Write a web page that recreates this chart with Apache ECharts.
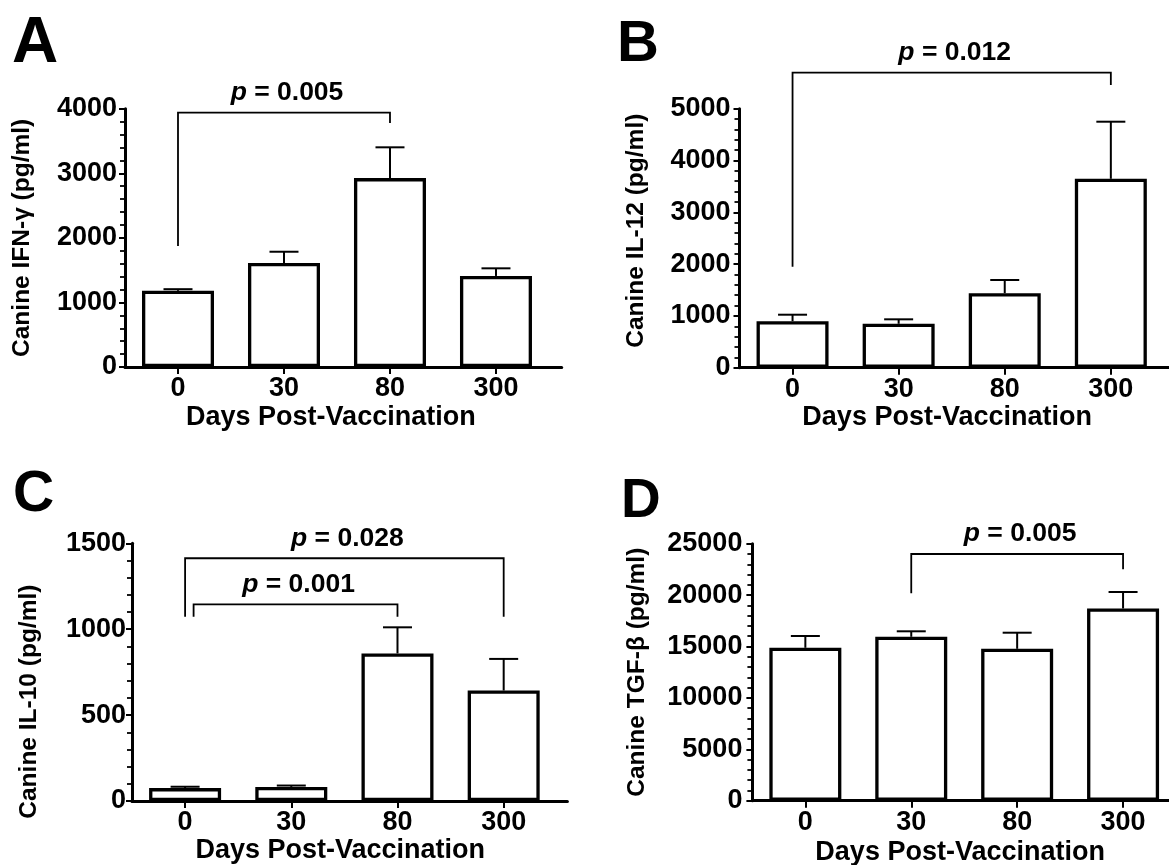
<!DOCTYPE html>
<html>
<head>
<meta charset="utf-8">
<script src="https://cdn.jsdelivr.net/npm/echarts@6/dist/echarts.min.js"></script>
<style>
html,body{margin:0;padding:0;background:#fff;}
#chart{width:1169px;height:865px;}
</style>
</head>
<body>
<div id="chart"></div>
<script>
// ---- data ----
const days = ['0', '30', '80', '300'];

const ifnMean = [1180, 1610, 2925, 1410];
const ifnSem  = [25, 175, 477, 118];

const il12Mean = [898, 848, 1438, 3647];
const il12Sem  = [125, 86, 255, 1102];

const il10Mean = [75, 82, 859, 643];
const il10Sem  = [8, 8, 152, 184];

const tgfMean = [14874, 15944, 14776, 18696];
const tgfSem  = [1147, 535, 1566, 1606];

// brackets: [fromCat, toCat, topValue, leftLegEnd, rightLegEnd]
const ifnBrackets  = [[0, 2, 3938, 1874, 3778]];
const ifnPLabels   = ['0.005'];
const il12Brackets = [[0, 3, 5695, 1950, 5458]];
const il12PLabels  = ['0.012'];
const il10Brackets = [[0, 3, 1413, 1073, 1073], [0.08, 2, 1145, 1073, 1073]];
const il10PLabels  = ['0.028', '0.001'];
const tgfBrackets  = [[1, 3, 23998, 20175, 22510]];
const tgfPLabels   = ['0.005'];

const yTitles = ['Canine IFN-\u03b3 (pg/ml)', 'Canine IL-12 (pg/ml)', 'Canine IL-10 (pg/ml)', 'Canine TGF-\u03b2 (pg/ml)'];
const yMax = [4000, 5000, 1500, 25000];
const yInterval = [1000, 1000, 500, 5000];
const panelLetters = ['A', 'B', 'C', 'D'];
const xTitle = 'Days Post-Vaccination';

// ---- styling / layout ----
const FONT = 'Liberation Sans, Arial, sans-serif';
const panels = [
  {mean: ifnMean, sem: ifnSem, br: ifnBrackets, pl: ifnPLabels,
   grid: {left: 125, top: 108.7, width: 436.7, height: 258.3}, xmax: 3.62,
   yGap: 90, yPad: [0, 0, 0, 0], xGap: 37, xPad: [0, 25, 0, 0], lblMargin: 8,
   letter: {x: 12, y: 44, size: 64}},
  {mean: il12Mean, sem: il12Sem, br: il12Brackets, pl: il12PLabels,
   grid: {left: 739.5, top: 108.7, width: 440.3, height: 259}, xmax: 3.65,
   yGap: 91, yPad: [0, 0, 0, 15], xGap: 35, xPad: [0, 25, 0, 0], lblMargin: 9,
   letter: {x: 617, y: 45, size: 58}},
  {mean: il10Mean, sem: il10Sem, br: il10Brackets, pl: il10PLabels,
   grid: {left: 132, top: 543.3, width: 435.4, height: 257.7}, xmax: 3.6,
   yGap: 90, yPad: [0, 59, 0, 0], xGap: 36, xPad: [0, 19, 0, 0], lblMargin: 6,
   letter: {x: 13, y: 495.5, size: 57}},
  {mean: tgfMean, sem: tgfSem, br: tgfBrackets, pl: tgfPLabels,
   grid: {left: 752.4, top: 543.7, width: 439.5, height: 257}, xmax: 3.65,
   yGap: 103, yPad: [0, 0, 0, 0], xGap: 38, xPad: [0, 24, 0, 0], lblMargin: 10,
   letter: {x: 621, y: 502, size: 55}}
];

const grids = [], xAxes = [], yAxes = [], series = [], graphics = [];

panels.forEach((p, i) => {
  grids.push(Object.assign({outerBoundsMode: 'none', containLabel: false}, p.grid));
  xAxes.push({
    type: 'value', gridIndex: i, min: -0.5, max: p.xmax,
    name: xTitle, nameLocation: 'middle', nameGap: p.xGap,
    nameTextStyle: {fontFamily: FONT, fontWeight: 'bold', fontSize: 27, color: '#000', padding: p.xPad},
    axisLine: {show: true, onZero: false, lineStyle: {color: '#000', width: 3}},
    axisTick: {show: true, customValues: [0, 1, 2, 3], length: 7, lineStyle: {color: '#000', width: 2}},
    axisLabel: {show: true, customValues: [0, 1, 2, 3], margin: 8,
      formatter: v => days[Math.round(v)],
      fontFamily: FONT, fontWeight: 'bold', fontSize: 27, color: '#000'},
    splitLine: {show: false}
  });
  yAxes.push({
    type: 'value', gridIndex: i, min: 0, max: yMax[i], interval: yInterval[i],
    name: yTitles[i], nameLocation: 'middle', nameRotate: 90, nameGap: p.yGap,
    nameTextStyle: {fontFamily: FONT, fontWeight: 'bold', fontSize: 24.5, color: '#000', padding: p.yPad},
    axisLine: {show: true, onZero: false, lineStyle: {color: '#000', width: 3}},
    axisTick: {show: true, length: 6, lineStyle: {color: '#000', width: 2}},
    minorTick: {show: true, splitNumber: 5, length: 5, lineStyle: {color: '#000', width: 1.8}},
    axisLabel: {margin: p.lblMargin, formatter: v => String(v),
      fontFamily: FONT, fontWeight: 'bold', fontSize: 27, color: '#000'},
    splitLine: {show: false}, minorSplitLine: {show: false}
  });

  // bars
  series.push({
    type: 'bar', xAxisIndex: i, yAxisIndex: i, barWidth: 72,
    data: p.mean.map((v, k) => [k, v]),
    itemStyle: {color: '#fff', borderColor: '#000', borderWidth: 3.3},
    silent: true, animation: false, z: 2
  });

  // error bars (upper only)
  series.push({
    type: 'custom', xAxisIndex: i, yAxisIndex: i, clip: false, animation: false, silent: true, z: 3,
    data: p.mean.map((v, k) => [k, v, p.sem[k]]),
    encode: {x: 0, y: 1},
    renderItem: function (params, api) {
      const x = api.value(0), m = api.value(1), s = api.value(2);
      const a = api.coord([x, m]);
      const b = api.coord([x, m + s]);
      return {type: 'group', children: [
        {type: 'line', shape: {x1: a[0], y1: a[1], x2: b[0], y2: b[1]}, style: {stroke: '#000', lineWidth: 2}},
        {type: 'line', shape: {x1: b[0] - 14.5, y1: b[1], x2: b[0] + 14.5, y2: b[1]}, style: {stroke: '#000', lineWidth: 2}}
      ]};
    }
  });

  // significance brackets
  const labels = p.pl;
  series.push({
    type: 'custom', xAxisIndex: i, yAxisIndex: i, clip: false, animation: false, silent: true, z: 4,
    data: p.br,
    encode: {x: [0, 1], y: 2},
    renderItem: function (params, api) {
      const x1 = api.value(0), x2 = api.value(1), yt = api.value(2), l1 = api.value(3), l2 = api.value(4);
      const a = api.coord([x1, l1]), b = api.coord([x1, yt]), c = api.coord([x2, yt]), d = api.coord([x2, l2]);
      return {type: 'group', children: [
        {type: 'polyline', shape: {points: [a, b, c, d]}, style: {stroke: '#000', lineWidth: 1.8, fill: null}},
        {type: 'text', x: (b[0] + c[0]) / 2 + 3, y: b[1] - 20,
          style: {
            text: '{i|p}{n| = ' + labels[params.dataIndex] + '}',
            align: 'center', verticalAlign: 'middle',
            rich: {
              i: {fontFamily: FONT, fontStyle: 'italic', fontWeight: 'bold', fontSize: 26.5, fill: '#000'},
              n: {fontFamily: FONT, fontWeight: 'bold', fontSize: 26.5, fill: '#000'}
            }
          }}
      ]};
    }
  });

  graphics.push({
    type: 'text', x: p.letter.x, y: p.letter.y,
    style: {text: panelLetters[i], fontFamily: FONT, fontWeight: 'bold', fontSize: p.letter.size,
      fill: '#000', align: 'left', verticalAlign: 'middle'}
  });
});

const chart = echarts.init(document.getElementById('chart'), null, {renderer: 'canvas'});
chart.setOption({
  backgroundColor: '#fff',
  animation: false,
  grid: grids,
  xAxis: xAxes,
  yAxis: yAxes,
  series: series,
  graphic: graphics
});
</script>
</body>
</html>
